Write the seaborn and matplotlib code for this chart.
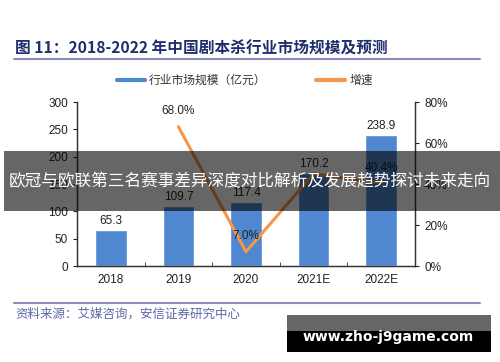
import numpy as np
import pandas as pd
import matplotlib
matplotlib.use("Agg")
import matplotlib.pyplot as plt
import seaborn as sns
from matplotlib.patches import Rectangle
from matplotlib.lines import Line2D

# chart data
years = ["2018", "2019", "2020", "2021E", "2022E"]
market_size = [65.3, 109.7, 117.4, 170.2, 238.9]
growth_years = ["2019", "2020", "2021E", "2022E"]
growth_rate = [68.0, 7.0, 45.0, 40.4]
# the 2021E growth label is not shown in the original chart
growth_labels = ["68.0%", "7.0%", "", "40.4%"]

sns.set_style("white")
plt.rcParams["font.family"] = ["Liberation Sans", "Noto Sans CJK SC", "DejaVu Sans"]

BLUE = "#4f88d0"
ORANGE = "#f79646"
cjk = ["Noto Sans CJK SC", "DejaVu Sans"]

df = pd.DataFrame({"year": years, "size": market_size})
gdf = pd.DataFrame({"year": growth_years, "rate": growth_rate, "label": growth_labels})
gdf["pos"] = [years.index(y) for y in gdf["year"]]

fig = plt.figure(figsize=(5, 3.62), dpi=100)
ax = fig.add_axes([0.154, 0.265, 0.676, 0.453])

sns.barplot(data=df, x="year", y="size", color=BLUE, width=0.47, ax=ax, saturation=1)
ax.set_xlim(-0.5, 4.5)
ax.set_ylim(0, 300)
ax.set_yticks(range(0, 301, 50))
ax.set_xlabel("")
ax.set_ylabel("")
for i, v in enumerate(df["size"]):
    ax.text(i, v + 6, f"{v:.1f}", ha="center", va="bottom", fontsize=8.5, color="#222222")

ax2 = ax.twinx()
ax2.plot(gdf["pos"], gdf["rate"], color=ORANGE, lw=2.2)
ax2.set_ylim(0, 80)
ax2.set_yticks(range(0, 81, 20))
ax2.set_yticklabels([f"{t}%" for t in range(0, 81, 20)])
for p, r, lab in zip(gdf["pos"], gdf["rate"], gdf["label"]):
    if lab:
        ax2.text(p, r + 4.5, lab, ha="center", va="bottom", fontsize=8.5, color="#222222")

for a in (ax, ax2):
    a.spines["top"].set_visible(False)
    for s in ("left", "right", "bottom"):
        a.spines[s].set_color("#333333")
        a.spines[s].set_linewidth(0.9)
ax.tick_params(axis="y", direction="out", length=3, labelsize=8.5, colors="#222222", left=True)
ax2.tick_params(axis="y", direction="out", length=3, labelsize=8.5, colors="#222222", right=True)
ax.tick_params(axis="x", length=0, labelsize=8.5, colors="#222222", pad=6)
ax.set_xticks(np.arange(-0.5, 4.6, 1), minor=True)
ax.tick_params(axis="x", which="minor", direction="in", length=3, color="#333333", bottom=True)

# title, legend, source
fig.text(0.03, 0.865, "图 11：2018-2022 年中国剧本杀行业市场规模及预测", family=cjk,
         fontsize=11.3, fontweight="bold", color="#1f2f6e", va="center")
fig.add_artist(Line2D([0.028, 0.96], [0.837, 0.837], color="#8c8cc0", lw=1.5))
fig.add_artist(Line2D([0.234, 0.29], [0.779, 0.779], color=BLUE, lw=3))
fig.text(0.298, 0.779, "行业市场规模（亿元）", family=cjk, fontsize=8.5, color="#333333", va="center")
fig.add_artist(Line2D([0.632, 0.69], [0.779, 0.779], color=ORANGE, lw=3))
fig.text(0.700, 0.779, "增速", family=cjk, fontsize=8.5, color="#333333", va="center")
fig.add_artist(Line2D([0.028, 0.96], [0.163, 0.163], color="#8c8cc0", lw=1.5))
fig.text(0.03, 0.133, "资料来源：艾媒咨询，安信证券研究中心", family=cjk, fontsize=9,
         color="#5a6aa8", va="center", style="italic")

# overlay banner
fig.add_artist(Rectangle((0.008, 1 - 211 / 362), 0.992, 60 / 362, transform=fig.transFigure,
                         facecolor="black", alpha=0.6, edgecolor="none", zorder=10))
fig.text(0.5, 1 - 182 / 362, "欧冠与欧联第三名赛事差异深度对比解析及发展趋势探讨未来走向",
         family=cjk, fontsize=12, color="white", ha="center", va="center", zorder=11)

# watermark box
fig.add_artist(Rectangle((287 / 500, 1 - 331 / 362), 204 / 500, 16 / 362, transform=fig.transFigure,
                         facecolor="#666666", edgecolor="none", zorder=10))
fig.add_artist(Rectangle((287 / 500, 1 - 352 / 362), 204 / 500, 21 / 362, transform=fig.transFigure,
                         facecolor="black", edgecolor="none", zorder=10))
fig.text(388 / 500, 1 - 337 / 362, "www.zho-j9game.com", family=["DejaVu Sans"], fontsize=10,
         fontweight="bold", color="white", ha="center", va="center", zorder=11)

fig.savefig("out.png", dpi=100, facecolor="white")
